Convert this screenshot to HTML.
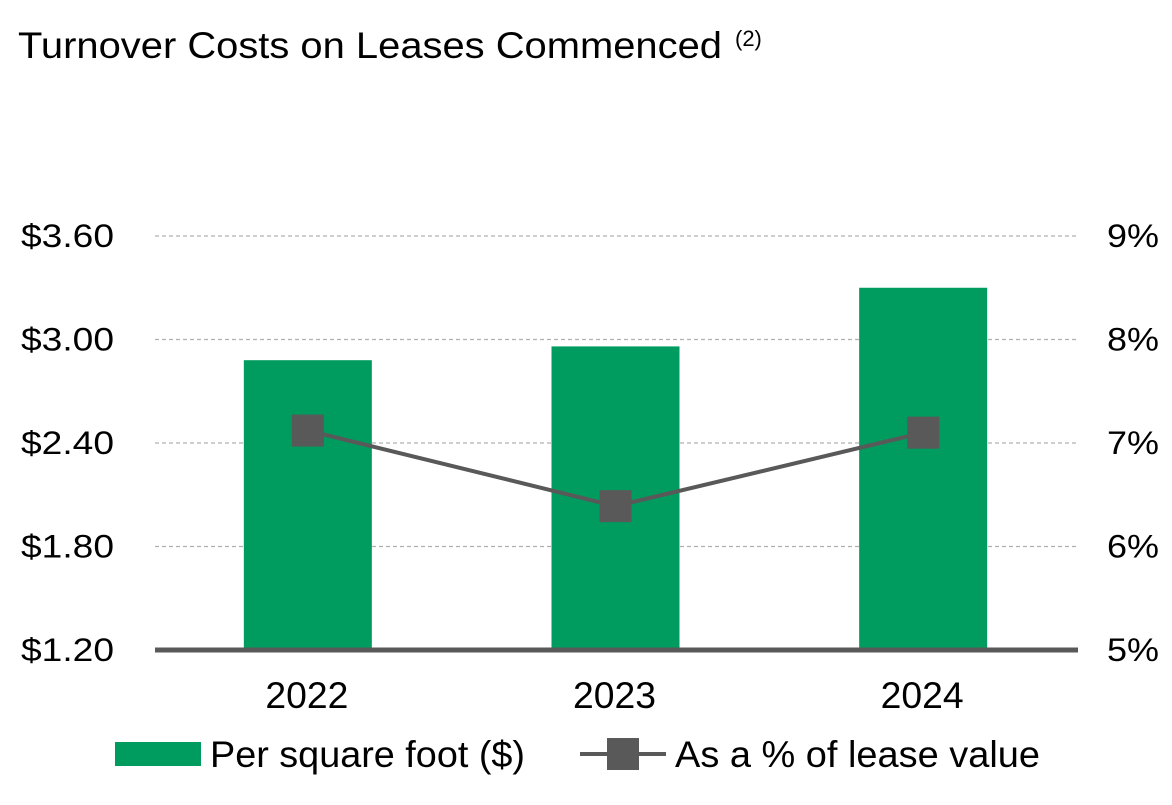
<!DOCTYPE html>
<html><head><meta charset="utf-8"><style>
body{margin:0;background:#fff;width:1172px;height:800px;overflow:hidden;font-family:"Liberation Sans",Arial,sans-serif}
svg text{font-family:"Liberation Sans",Arial,sans-serif;fill:#000}
</style></head><body>
<svg width="1172" height="800">
<text x="18" y="58" font-size="37" textLength="704" lengthAdjust="spacingAndGlyphs">Turnover Costs on Leases Commenced</text>
<text x="735" y="46" font-size="22">(2)</text>
<g id="grid"></g><g id="bars"></g><g id="line"></g><g id="axes"></g>
<g>
<rect x="115" y="742" width="86" height="24" fill="#009B5F"/>
<text x="210" y="767" font-size="37" textLength="315" lengthAdjust="spacingAndGlyphs">Per square foot ($)</text>
<line x1="580" y1="754" x2="666" y2="754" stroke="#595959" stroke-width="4"/>
<rect x="607" y="738" width="32" height="32" fill="#595959"/>
<text x="675" y="767" font-size="37" textLength="365" lengthAdjust="spacingAndGlyphs">As a % of lease value</text>
</g>
</svg>
<script>
const categories=["2022","2023","2024"];
const perSqFt=[2.88,2.96,3.30];
const pctLease=[7.12,6.39,7.10];
const leftTicks=[1.20,1.80,2.40,3.00,3.60];
const rightTicks=[5,6,7,8,9];
const NS="http://www.w3.org/2000/svg";
const x0=155,x1=1078,yB=650,yT=236;
const yL=v=>yB-(v-1.2)/(3.6-1.2)*(yB-yT);
const yR=v=>yB-(v-5)/(9-5)*(yB-yT);
const band=(x1-x0)/categories.length;
const xC=i=>x0+band*(i+0.5);
function mk(tag,attrs,parent,txt){const e=document.createElementNS(NS,tag);for(const k in attrs)e.setAttribute(k,attrs[k]);if(txt!==undefined)e.textContent=txt;document.getElementById(parent).appendChild(e);return e;}
leftTicks.forEach((t,i)=>{
 if(i>0){const g=mk("line",{x1:x0,x2:x1,y1:yL(t),y2:yL(t),stroke:"#b0b0b0","stroke-width":1.2,"stroke-dasharray":"4,3"},"grid");
 
 }
 const l=mk("text",{x:114,y:yL(t)+11,"font-size":32,"text-anchor":"end",textLength:93,lengthAdjust:"spacingAndGlyphs"},"axes","$"+t.toFixed(2));
 
 
});
rightTicks.forEach(t=>{
 const l=mk("text",{x:1159,y:yR(t)+11,"font-size":32,"text-anchor":"end",textLength:52,lengthAdjust:"spacingAndGlyphs"},"axes",t+"%");
 
 
});
categories.forEach((c,i)=>{
 const b=mk("rect",{x:xC(i)-65,y:yL(perSqFt[i]),width:128,height:yB-yL(perSqFt[i]),fill:"#009B5F"},"bars");
 
 
 const l=mk("text",{x:xC(i)-2,y:708,"font-size":37,"text-anchor":"middle",textLength:83,lengthAdjust:"spacingAndGlyphs"},"axes",c);
 
 
});
const ax=mk("line",{x1:x0,x2:x1,y1:yB,y2:yB,stroke:"#595959","stroke-width":5},"axes");


const pl=mk("polyline",{points:pctLease.map((v,i)=>(xC(i)-1)+","+yR(v)).join(" "),fill:"none",stroke:"#595959","stroke-width":4},"line");


pctLease.forEach((v,i)=>{
 const m=mk("rect",{x:xC(i)-17,y:yR(v)-16,width:32,height:32,fill:"#595959"},"line");
 
 
});
</script>
</body></html>
